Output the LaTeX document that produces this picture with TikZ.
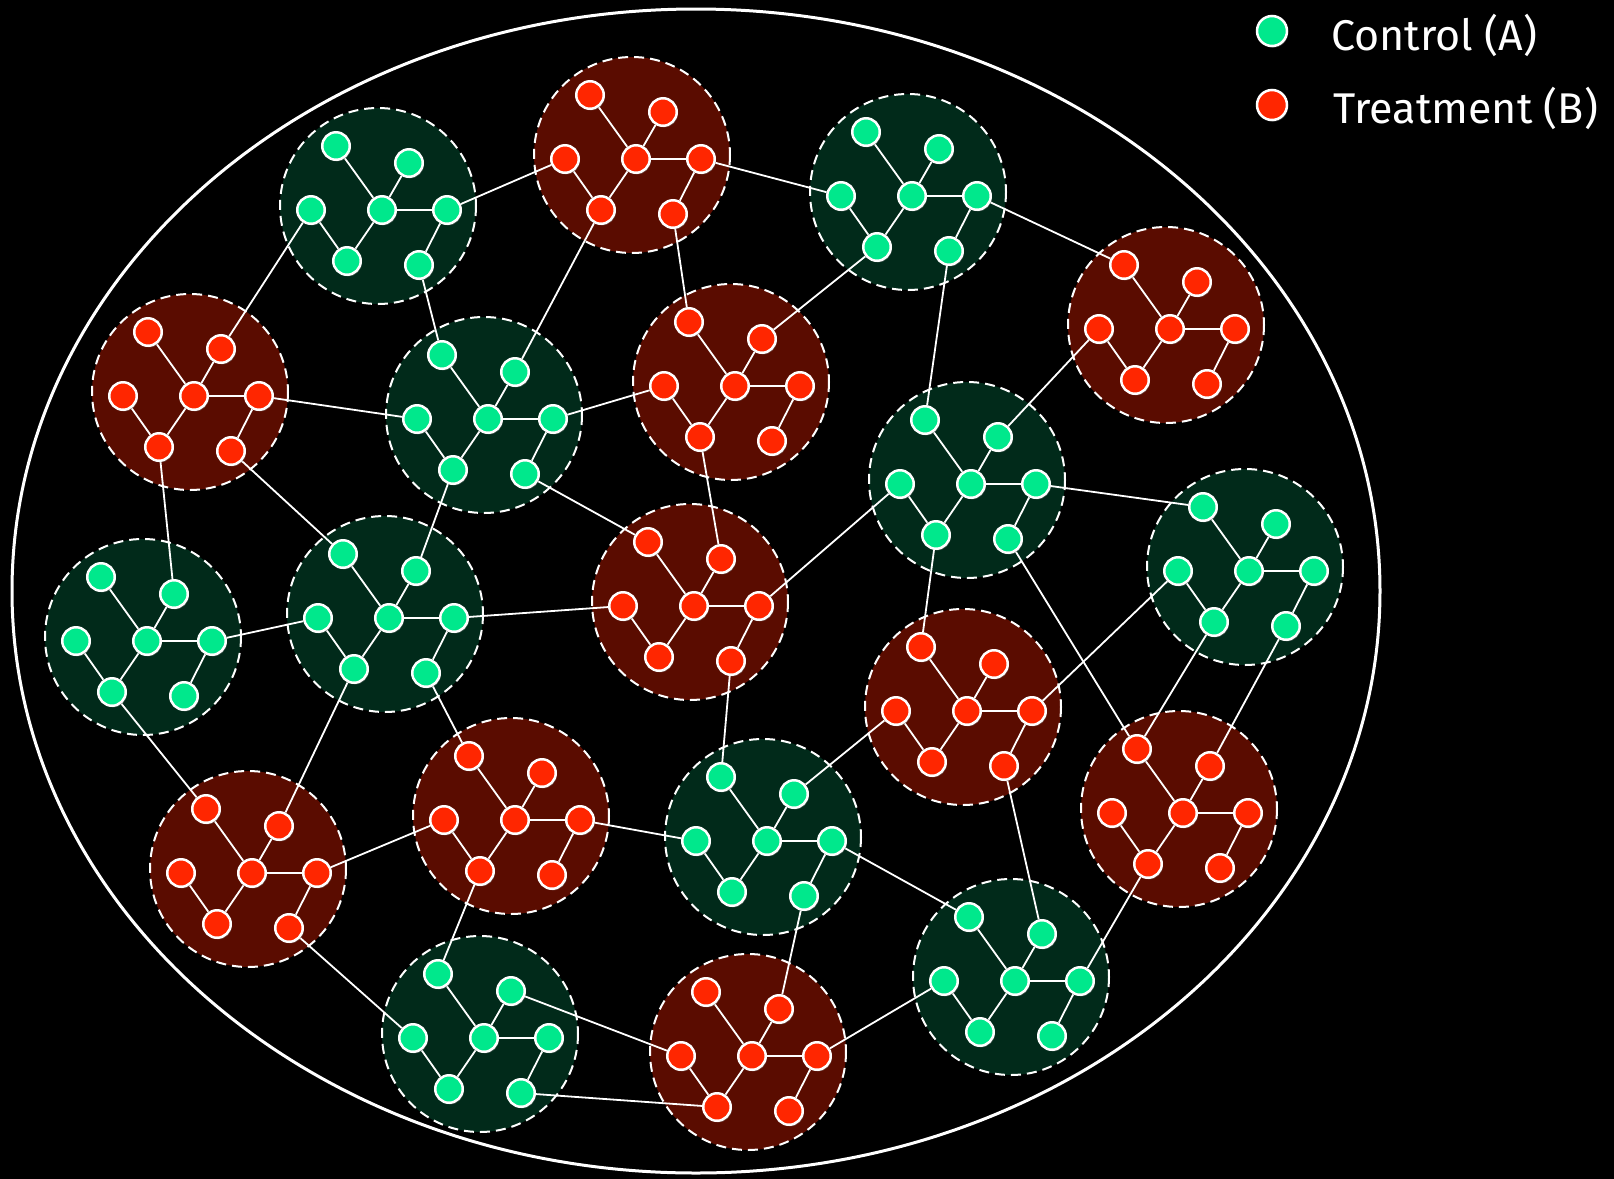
\documentclass[tikz,border=0pt]{standalone}
\usepackage{fontspec}
\setmainfont{Fira Sans}
\usetikzlibrary{shadows}

\definecolor{ctlnode}{RGB}{0,232,140}
\definecolor{trtnode}{RGB}{255,38,0}
\definecolor{ctlfill}{RGB}{1,42,26}
\definecolor{trtfill}{RGB}{90,12,0}

\pgfdeclarelayer{disk}
\pgfdeclarelayer{link}
\pgfsetlayers{disk,link,main}

% one cluster: name, x, y, kind (ctl / trt)
\newcommand{\cluster}[4]{%
  \begin{pgfonlayer}{disk}
    \fill[#4disk] (#2-4,#3-4) circle (98);
    \draw[ring] (#2-4,#3-4) circle (98);
  \end{pgfonlayer}
  \node[unit, #4unit] (#1-c)  at (#2,#3) {};
  \node[unit, #4unit] (#1-r)  at (#2+65,#3) {};
  \node[unit, #4unit] (#1-l)  at (#2-71,#3) {};
  \node[unit, #4unit] (#1-ul) at (#2-46,#3-64) {};
  \node[unit, #4unit] (#1-ur) at (#2+27,#3-47) {};
  \node[unit, #4unit] (#1-ll) at (#2-35,#3+51) {};
  \node[unit, #4unit] (#1-lr) at (#2+37,#3+55) {};
  \begin{pgfonlayer}{link}
    \draw[link] (#1-c) -- (#1-r) (#1-c) -- (#1-ul) (#1-c) -- (#1-ur)
      (#1-c) -- (#1-ll) (#1-ll) -- (#1-l) (#1-r) -- (#1-lr);
  \end{pgfonlayer}
}

\begin{document}
\begin{tikzpicture}[
  x=0.5pt, y=-0.5pt,
  unit/.style={circle, draw=white, line width=1.25pt, minimum size=13.75pt,
    inner sep=0pt, drop shadow={shadow xshift=0.6pt, shadow yshift=-0.8pt, opacity=0.45}},
  ctlunit/.style={fill=ctlnode},
  trtunit/.style={fill=trtnode},
  ctldisk/.style={fill=ctlfill},
  trtdisk/.style={fill=trtfill},
  ring/.style={draw=white, line width=1pt, dash pattern=on 5pt off 3pt},
  link/.style={draw=white, line width=0.9pt},
  keytext/.style={text=white, inner sep=0pt, anchor=base west,
    font=\fontsize{21.5}{25}\selectfont},
]
  \useasboundingbox (0,0) rectangle (1614,1179);

  % fond noir et grande ellipse
  \begin{pgfonlayer}{disk}
    \fill[black] (0,0) rectangle (1614,1179);
    \draw[white, line width=1.5pt] (696,591) ellipse [x radius=684, y radius=582];
  \end{pgfonlayer}

  % grappes
  \foreach \n/\x/\y/\k in {A1/382/210/ctl, B1/636/159/trt, A2/912/196/ctl,
      B2/1170/329/trt, B3/194/396/trt, A3/488/419/ctl, B4/735/386/trt,
      A4/971/484/ctl, A5/1249/571/ctl, A6/147/641/ctl, A7/389/618/ctl,
      B5/694/606/trt, B6/967/711/trt, B7/1183/813/trt, B8/252/873/trt,
      B9/515/820/trt, A8/767/841/ctl, A9/1015/981/ctl, A10/484/1038/ctl,
      B10/752/1056/trt}
    \cluster{\n}{\x}{\y}{\k};

  % liens entre grappes
  \begin{pgfonlayer}{link}
    \foreach \p/\q in {A1-r/B1-l, A1-l/B3-ur, A1-lr/A3-ul, B1-r/A2-l,
        B1-ll/A3-ur, B1-lr/B4-ul, A2-r/B2-ul, A2-ll/B4-ur, A2-lr/A4-ul,
        B2-l/A4-ur, B3-r/A3-l, B3-ll/A6-ur, B3-lr/A7-ul, A3-r/B4-l,
        A3-ll/A7-ur, A3-lr/B5-ul, B4-ll/B5-ur, A4-l/B5-r, A4-r/A5-ul,
        A4-ll/B6-ul, A4-lr/B7-ul, A5-l/B6-r, A5-ll/B7-ul, A5-lr/B7-ur,
        A6-r/A7-l, A6-ll/B8-ul, A7-r/B5-l, A7-ll/B8-ur, A7-lr/B9-ul,
        B5-lr/A8-ul, B6-l/A8-ur, B6-lr/A9-ur, B7-ll/A9-r, B8-r/B9-l,
        B8-lr/A10-l, B9-r/A8-l, B9-ll/A10-ul, A8-r/A9-ul, A8-lr/B10-ur,
        A9-l/B10-r, A10-ur/B10-l, A10-lr/B10-ll}
      \draw[link] (\p) -- (\q);
  \end{pgfonlayer}

  % légende
  \node[unit, ctlunit, minimum size=15pt] (keyA) at (1272,31) {};
  \node[unit, trtunit, minimum size=15pt] (keyB) at (1272,105) {};
  \node[keytext] (keyAtext) at (1331,50) {Control (A)};
  \node[keytext] (keyBtext) at (1333,123) {Treatment (B)};
\end{tikzpicture}
\end{document}
